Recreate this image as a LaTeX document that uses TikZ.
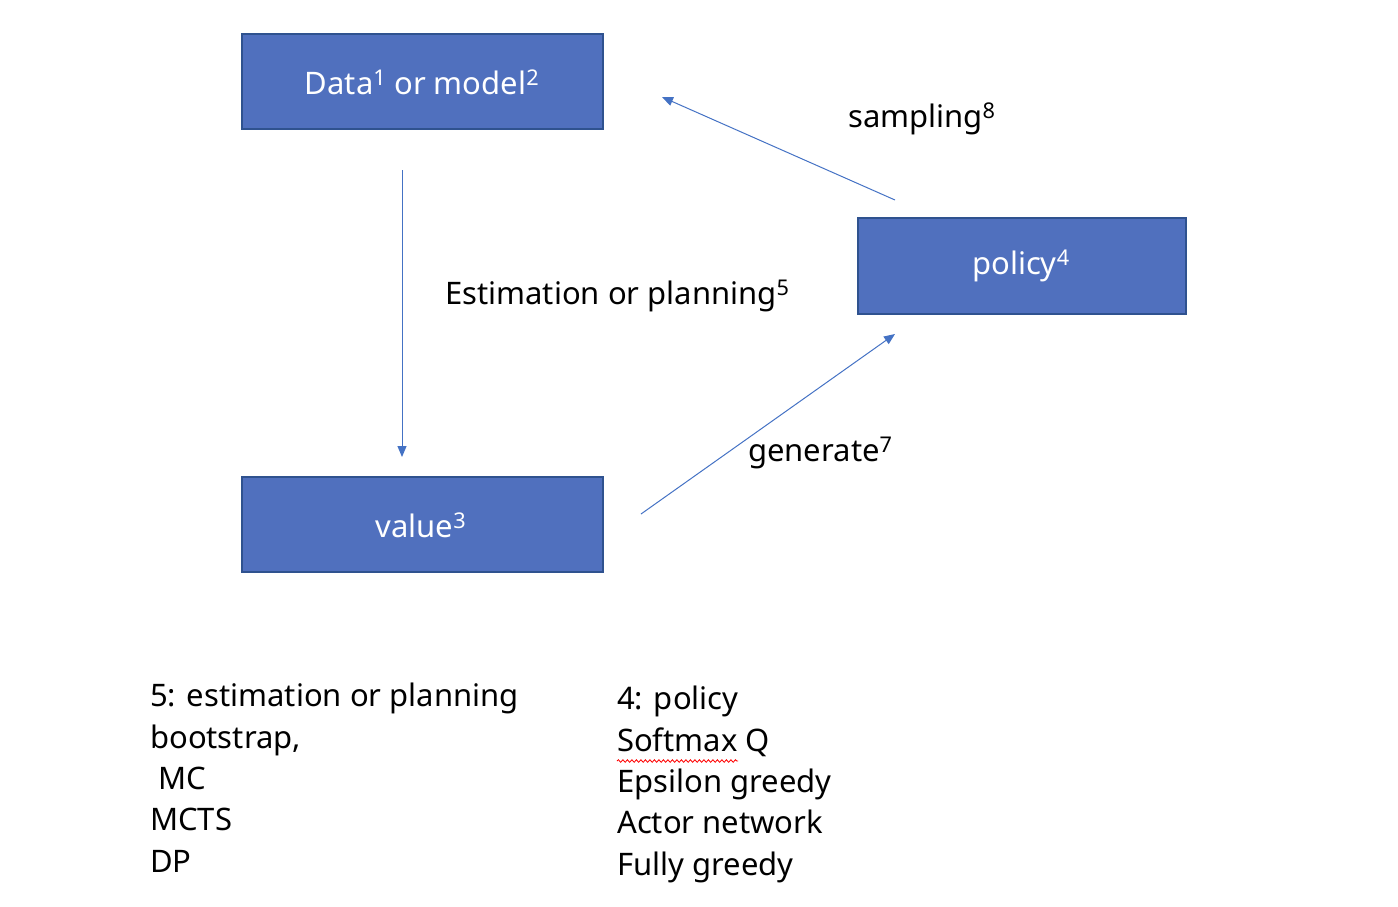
\documentclass[tikz,border=0pt]{standalone}
\usepackage{fontspec}
\setmainfont{Noto Sans}
\usetikzlibrary{arrows.meta,decorations.pathmorphing}
\definecolor{boxfill}{HTML}{5070BE}
\definecolor{boxedge}{HTML}{2F528F}
\definecolor{arrowc}{HTML}{4472C4}
\begin{document}
\begin{tikzpicture}[x=1pt,y=-1pt,
  box/.style={draw=boxedge,line width=1.5pt,fill=boxfill},
  boxtxt/.style={text=white,font=\fontsize{31}{36}\selectfont},
  conn/.style={draw=arrowc,line width=1pt,-{Triangle[length=11pt,width=9pt]}},
  lbl/.style={font=\fontsize{31}{36}\selectfont,text=black,inner sep=0pt},
  listtxt/.style={font=\fontsize{31}{41.4}\selectfont,text=black,align=left,anchor=north west,inner sep=0pt}]
\useasboundingbox (0,0) rectangle (1398,906);
\path[box] (242,34) rectangle (603,129);
\node[boxtxt] (data) at (422,82) {Data\textsuperscript{1} or model\textsuperscript{2}};
\path[box] (858,218) rectangle (1186,314);
\node[boxtxt] (policy) at (1021,266) {policy\textsuperscript{4}};
\path[box] (242,477) rectangle (603,572);
\node[boxtxt] (value) at (421,525) {value\textsuperscript{3}};
\coordinate (a1s) at (402,170); \coordinate (a1e) at (402,457);
\coordinate (a2s) at (895,200); \coordinate (a2e) at (662,97);
\coordinate (a3s) at (641,514); \coordinate (a3e) at (895,334);
\draw[conn] (a1s) -- (a1e);
\draw[conn] (a2s) -- (a2e);
\draw[conn] (a3s) -- (a3e);
\node[lbl,anchor=west] (l1) at (848,119) {sampling\textsuperscript{8}};
\node[lbl,anchor=west] (l2) at (445,296) {Estimation or planning\textsuperscript{5}};
\node[lbl,anchor=west] (l3) at (748,453) {generate\textsuperscript{7}};
\node[listtxt] (left) at (150,683) {5: estimation or planning\\bootstrap,\\\ MC\\MCTS\\DP};
\node[listtxt] (right) at (617,686) {4: policy\\Softmax Q\\Epsilon greedy\\Actor network\\Fully greedy};
\draw[red,line width=0.8pt,decorate,decoration={snake,amplitude=1.3pt,segment length=4.5pt}] (617,761) -- (738,761);
\end{tikzpicture}
\end{document}
